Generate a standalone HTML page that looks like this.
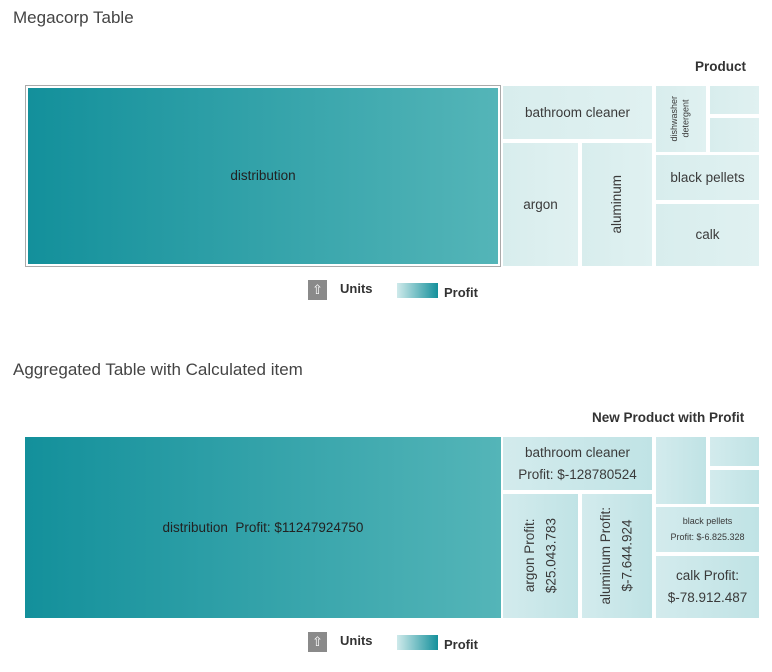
<!DOCTYPE html>
<html><head><style>
body{margin:0;width:772px;height:672px;background:#fff;font-family:"Liberation Sans",sans-serif;color:#333;position:relative;overflow:hidden}
.a{position:absolute}
.t{font-size:17px;color:#444}
.h{font-size:13.5px;font-weight:bold;color:#333}
.b{position:absolute;display:flex;align-items:center;justify-content:center;text-align:center;font-size:13.5px;color:#3a3a3a;line-height:1.6}
.l1{background:linear-gradient(90deg,#d8eded,#e0f1f1)}
.l2{background:linear-gradient(90deg,#d3ebed,#c0e3e5)}
.d{background:linear-gradient(90deg,#13909b,#54b5b8)}
.v{writing-mode:vertical-rl;transform:rotate(180deg)}
.ic{position:absolute;width:19px;height:20px;background:#8a8a8a;color:#fff;font-size:13px;text-align:center;line-height:20px}
.g{position:absolute;width:41px;height:15px;background:linear-gradient(90deg,#cfeaeb,#14909b)}
.lt{position:absolute;font-size:13px;font-weight:bold;color:#333}
</style></head><body>
<div class="a t" style="left:13px;top:8px">Megacorp Table</div>
<div class="a h" style="left:695px;top:59px">Product</div>
<div class="a" style="left:25px;top:85px;width:474px;height:180px;border:1px solid #aaa"></div>
<div class="b d" style="left:28px;top:88px;width:470px;height:176px;color:#222">distribution</div>
<div class="b l1" style="left:503px;top:86px;width:149px;height:53px">bathroom cleaner</div>
<div class="b l1" style="left:503px;top:143px;width:75px;height:123px">argon</div>
<div class="b l1" style="left:582px;top:143px;width:70px;height:123px"><span class="v">aluminum</span></div>
<div class="b l1" style="left:656px;top:86px;width:50px;height:66px;font-size:9px;line-height:1.3"><span class="v">dishwasher<br>detergent</span></div>
<div class="b l1" style="left:710px;top:86px;width:49px;height:28px"></div>
<div class="b l1" style="left:710px;top:118px;width:49px;height:34px"></div>
<div class="b l1" style="left:656px;top:155px;width:103px;height:45px">black pellets</div>
<div class="b l1" style="left:656px;top:204px;width:103px;height:62px">calk</div>
<div class="ic" style="left:308px;top:280px">⇧</div>
<div class="lt" style="left:340px;top:281px">Units</div>
<div class="g" style="left:397px;top:283px"></div>
<div class="lt" style="left:444px;top:285px">Profit</div>

<div class="a t" style="left:13px;top:360px">Aggregated Table with Calculated item</div>
<div class="a h" style="left:592px;top:410px">New Product with Profit</div>
<div class="b d" style="left:25px;top:437px;width:476px;height:181px;color:#222">distribution&nbsp; Profit: $11247924750</div>
<div class="b l2" style="left:503px;top:437px;width:149px;height:53px">bathroom cleaner<br>Profit: $-128780524</div>
<div class="b l2" style="left:503px;top:494px;width:75px;height:124px"><span class="v">argon Profit:<br>$25.043.783</span></div>
<div class="b l2" style="left:582px;top:494px;width:70px;height:124px"><span class="v">aluminum Profit:<br>$-7.644.924</span></div>
<div class="b l2" style="left:656px;top:437px;width:50px;height:67px"></div>
<div class="b l2" style="left:710px;top:437px;width:49px;height:29px"></div>
<div class="b l2" style="left:710px;top:470px;width:49px;height:34px"></div>
<div class="b l2" style="left:656px;top:507px;width:103px;height:45px;font-size:9px;line-height:1.7">black pellets<br>Profit: $-6.825.328</div>
<div class="b l2" style="left:656px;top:556px;width:103px;height:62px">calk Profit:<br>$-78.912.487</div>
<div class="ic" style="left:308px;top:632px">⇧</div>
<div class="lt" style="left:340px;top:633px">Units</div>
<div class="g" style="left:397px;top:635px"></div>
<div class="lt" style="left:444px;top:637px">Profit</div>
</body></html>
